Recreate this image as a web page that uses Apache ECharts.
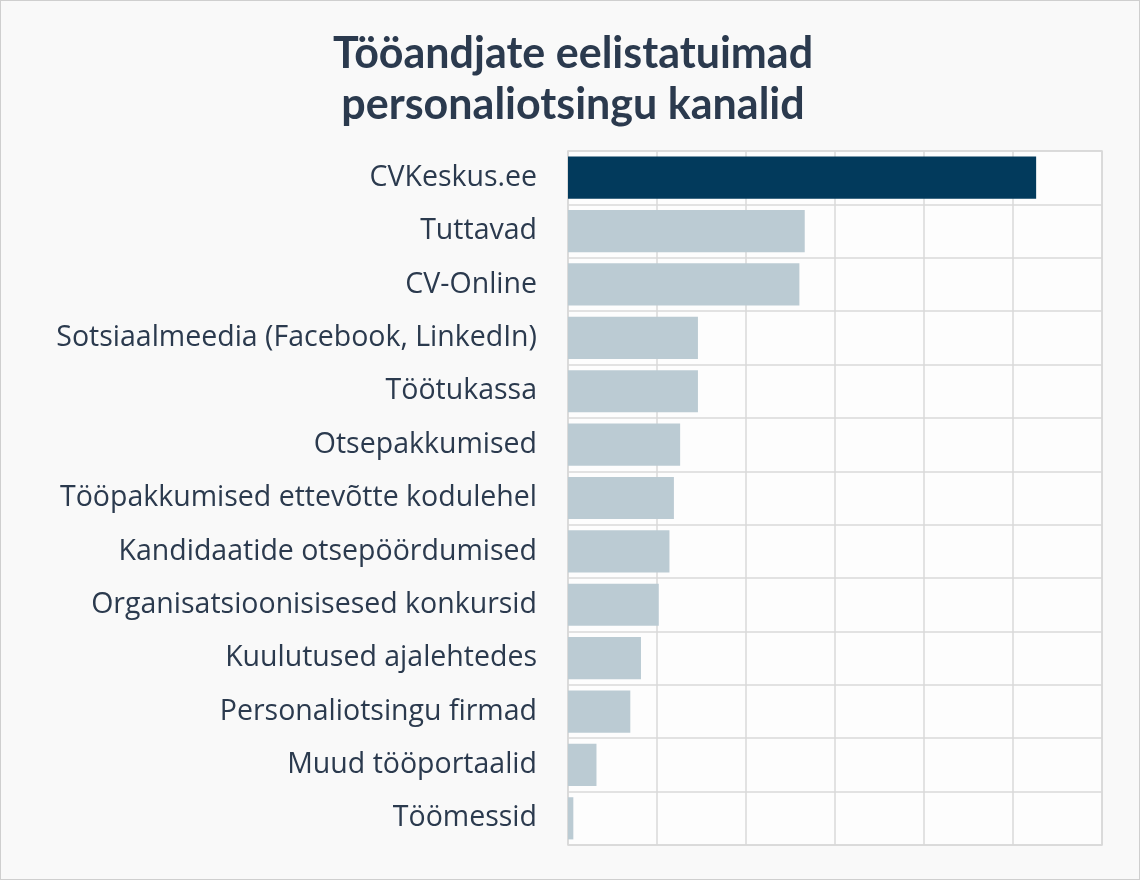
<!DOCTYPE html>
<html>
<head>
<meta charset="utf-8">
<script src="https://cdn.jsdelivr.net/npm/echarts@6/dist/echarts.min.js"></script>
<style>
html,body{margin:0;padding:0;background:#f9f9f9;}
#chart{width:1140px;height:880px;box-sizing:border-box;border:1px solid #cfcfcf;}
</style>
</head>
<body>
<div id="chart"></div>
<script>
const titleText = "Tööandjate eelistatuimad\npersonaliotsingu kanalid";
const categories = [
  "CVKeskus.ee",
  "Tuttavad",
  "CV-Online",
  "Sotsiaalmeedia (Facebook, LinkedIn)",
  "Töötukassa",
  "Otsepakkumised",
  "Tööpakkumised ettevõtte kodulehel",
  "Kandidaatide otsepöördumised",
  "Organisatsioonisisesed konkursid",
  "Kuulutused ajalehtedes",
  "Personaliotsingu firmad",
  "Muud tööportaalid",
  "Töömessid"
];
const values = [52.6, 26.6, 26.0, 14.6, 14.6, 12.6, 11.9, 11.4, 10.2, 8.2, 7.0, 3.2, 0.6];
const highlighted = ["CVKeskus.ee"];

const chart = echarts.init(document.getElementById('chart'), null, {renderer: 'canvas'});
const data = values.map((v, i) => ({
  value: v,
  itemStyle: { color: highlighted.includes(categories[i]) ? '#023a5c' : '#bbcbd3' }
}));
chart.setOption({
  backgroundColor: '#f9f9f9',
  animation: false,
  title: {
    text: titleText,
    left: 567,
    textAlign: 'center',
    top: 23,
    textStyle: {
      fontFamily: 'Lato',
      fontWeight: 'bold',
      fontSize: 43,
      lineHeight: 51,
      color: '#2b3a4e'
    }
  },
  grid: {
    left: 567, right: 37, top: 150, bottom: 34,
    show: true, backgroundColor: '#fdfdfd', borderColor: '#d8d8d8', borderWidth: 1.5
  },
  xAxis: {
    type: 'value', min: 0, max: 60, interval: 10,
    axisLabel: { show: false }, axisLine: { show: false }, axisTick: { show: false },
    splitLine: { show: true, lineStyle: { color: '#d8d8d8', width: 1.5 } }
  },
  yAxis: {
    type: 'category', data: categories, inverse: true,
    axisLine: { show: false }, axisTick: { show: false },
    splitLine: { show: true, lineStyle: { color: '#d8d8d8', width: 1.5 } },
    axisLabel: {
      margin: 31, fontFamily: 'Open Sans', fontSize: 28.5, color: '#2b3a4e'
    }
  },
  series: [{
    type: 'bar', data: data, barCategoryGap: '21%', silent: true
  }]
});
</script>
</body>
</html>
